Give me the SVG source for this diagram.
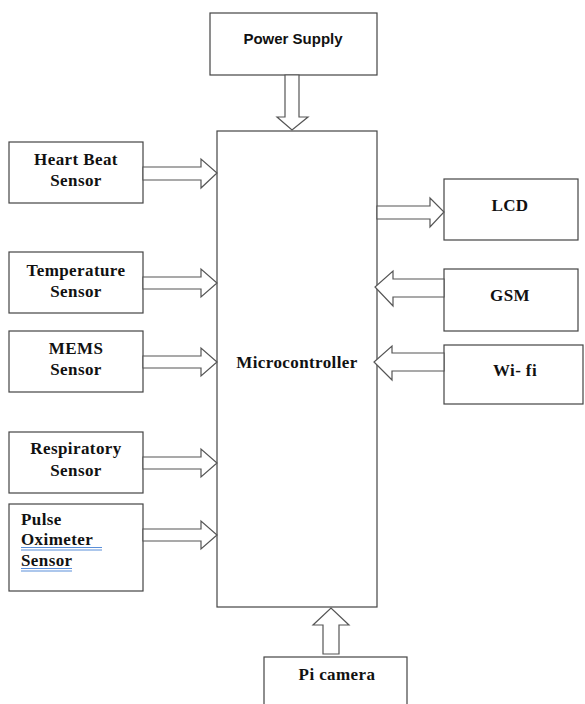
<svg xmlns="http://www.w3.org/2000/svg" width="585" height="704" viewBox="0 0 585 704">
<style>
.box{fill:#fff;stroke:#444;stroke-width:1.2}
.arr{fill:#fff;stroke:#555;stroke-width:1.2;stroke-linejoin:miter}
.t{font-family:"Liberation Serif","Times New Roman",serif;font-weight:bold;font-size:17px;letter-spacing:0.4px;fill:#111;text-anchor:middle}
.l{text-anchor:start}
.s{font-family:"Liberation Sans",Arial,sans-serif;font-weight:bold;font-size:15px;fill:#111;text-anchor:middle}
.u{stroke:#5b8fd9;stroke-width:1}
</style>
<rect width="585" height="704" fill="#fff"/>
<g id="power-supply"><rect class="box" x="210" y="13" width="167" height="62"/><text class="s" x="293" y="44">Power Supply</text></g>
<g id="microcontroller"><rect class="box" x="217" y="131" width="160" height="476"/><text class="t" x="297" y="368">Microcontroller</text></g>
<g id="heart-beat"><rect class="box" x="9" y="142" width="134" height="61"/><text class="t" x="76" y="165">Heart Beat</text><text class="t" x="76" y="186">Sensor</text></g>
<g id="temperature"><rect class="box" x="9" y="252" width="134" height="61"/><text class="t" x="76" y="276">Temperature</text><text class="t" x="76" y="297">Sensor</text></g>
<g id="mems"><rect class="box" x="9" y="331" width="134" height="61"/><text class="t" x="76" y="354">MEMS</text><text class="t" x="76" y="375">Sensor</text></g>
<g id="respiratory"><rect class="box" x="9" y="432" width="134" height="61"/><text class="t" x="76" y="454">Respiratory</text><text class="t" x="76" y="476">Sensor</text></g>
<g id="pulse-oximeter"><rect class="box" x="9" y="504" width="134" height="87"/>
<text class="t l" x="21" y="525">Pulse</text>
<text class="t l" x="21" y="545">Oximeter </text>
<text class="t l" x="21" y="566">Sensor</text>
<line class="u" x1="21" y1="547.5" x2="102" y2="547.5"/><line class="u" x1="21" y1="550" x2="102" y2="550"/>
<line class="u" x1="21" y1="568.5" x2="72" y2="568.5"/><line class="u" x1="21" y1="571" x2="72" y2="571"/>
</g>
<g id="lcd"><rect class="box" x="444" y="179" width="134" height="61"/><text class="t" x="510" y="211">LCD</text></g>
<g id="gsm"><rect class="box" x="444" y="269" width="134" height="62"/><text class="t" x="510" y="301">GSM</text></g>
<g id="wifi"><rect class="box" x="444" y="345" width="139" height="59"/><text class="t" x="515" y="376">Wi- fi</text></g>
<g id="pi-camera"><rect class="box" x="264" y="657" width="143" height="60"/><text class="t" x="337" y="680">Pi camera</text></g>
<g id="connectors">
<polygon class="arr" points="285,75 299,75 299,117 308,117 292,130 277,117 285,117"/>
<polygon class="arr" points="143,167 201,167 201,159 217,173 201,188 201,180 143,180"/>
<polygon class="arr" points="143,277 201,277 201,269 217,283 201,297 201,289 143,289"/>
<polygon class="arr" points="143,356 201,356 201,348 217,362 201,376 201,368 143,368"/>
<polygon class="arr" points="143,457 201,457 201,449 217,463 201,477 201,469 143,469"/>
<polygon class="arr" points="143,529 201,529 201,521 217,535 201,549 201,541 143,541"/>
<polygon class="arr" points="377,206 430,206 430,198 444,212 430,227 430,219 377,219"/>
<polygon class="arr" points="444,279 393,279 393,271 375,287 393,306 393,297 444,297"/>
<polygon class="arr" points="444,353 392,353 392,346 374,362 392,380 392,371 444,371"/>
<polygon class="arr" points="323,654 323,625 313,625 331,608 349,625 339,625 339,654"/>
</g>
</svg>
